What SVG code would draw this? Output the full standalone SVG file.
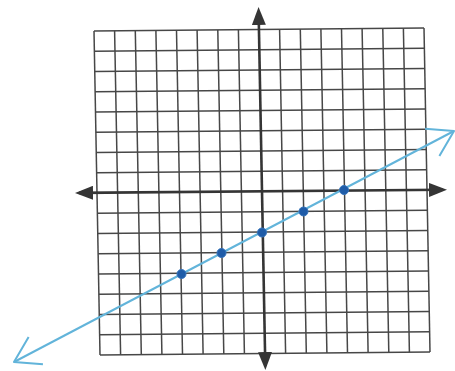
<svg xmlns="http://www.w3.org/2000/svg" width="455" height="371" viewBox="0 0 455 371">
  <style>
    .grid line { stroke: #474747; stroke-width: 1.5; }
    .axis { stroke: #353535; stroke-width: 2.6; fill: none; }
    .graph { stroke: #62b4da; stroke-width: 2; fill: none; }
    .pt { fill: #1f5ca8; stroke: #3573bb; stroke-width: 1; }
  </style>
  <defs>
    <marker id="axisHead" viewBox="0 0 18 14" refX="14" refY="7" markerWidth="18" markerHeight="14" markerUnits="userSpaceOnUse" orient="auto-start-reverse">
      <path d="M0,0 L18,7 L0,14 z" fill="#353535"/>
    </marker>
    <marker id="openHead" viewBox="-2 -2 30 36" refX="24.6" refY="15.4" markerWidth="30" markerHeight="36" markerUnits="userSpaceOnUse" orient="auto-start-reverse" overflow="visible">
      <path d="M0,0 L24.6,15.4 L0,30.8" fill="none" stroke="#62b4da" stroke-width="2" stroke-linejoin="round"/>
    </marker>
  </defs>
  <rect width="455" height="371" fill="#ffffff"/>

  <g id="grid" class="grid">
    <line x1="94" y1="31" x2="100" y2="355"/>
    <line x1="114.6" y1="30.8" x2="120.6" y2="354.8"/>
    <line x1="135.3" y1="30.6" x2="141.3" y2="354.6"/>
    <line x1="155.9" y1="30.4" x2="161.9" y2="354.4"/>
    <line x1="176.5" y1="30.3" x2="182.5" y2="354.3"/>
    <line x1="197.1" y1="30.1" x2="203.1" y2="354.1"/>
    <line x1="217.8" y1="29.9" x2="223.8" y2="353.9"/>
    <line x1="238.4" y1="29.7" x2="244.4" y2="353.7"/>
    <line x1="279.6" y1="29.3" x2="285.6" y2="353.3"/>
    <line x1="300.3" y1="29.1" x2="306.3" y2="353.1"/>
    <line x1="320.9" y1="28.9" x2="326.9" y2="352.9"/>
    <line x1="341.5" y1="28.8" x2="347.5" y2="352.8"/>
    <line x1="362.1" y1="28.6" x2="368.1" y2="352.6"/>
    <line x1="382.8" y1="28.4" x2="388.8" y2="352.4"/>
    <line x1="403.4" y1="28.2" x2="409.4" y2="352.2"/>
    <line x1="424" y1="28" x2="430" y2="352"/>

    <line x1="94" y1="31" x2="424" y2="28"/>
    <line x1="94.4" y1="51.3" x2="424.4" y2="48.3"/>
    <line x1="94.8" y1="71.5" x2="424.8" y2="68.5"/>
    <line x1="95.1" y1="91.8" x2="425.1" y2="88.8"/>
    <line x1="95.5" y1="112" x2="425.5" y2="109"/>
    <line x1="95.9" y1="132.3" x2="425.9" y2="129.3"/>
    <line x1="96.3" y1="152.5" x2="426.3" y2="149.5"/>
    <line x1="96.6" y1="172.8" x2="426.6" y2="169.8"/>
    <line x1="97.4" y1="213.3" x2="427.4" y2="210.3"/>
    <line x1="97.8" y1="233.5" x2="427.8" y2="230.5"/>
    <line x1="98.1" y1="253.8" x2="428.1" y2="250.8"/>
    <line x1="98.5" y1="274" x2="428.5" y2="271"/>
    <line x1="98.9" y1="294.3" x2="428.9" y2="291.3"/>
    <line x1="99.3" y1="314.5" x2="429.3" y2="311.5"/>
    <line x1="99.6" y1="334.8" x2="429.6" y2="331.8"/>
    <line x1="100" y1="355" x2="430" y2="352"/>
  </g>

  <g id="axes">
    <line id="x-axis" class="axis" x1="79" y1="192.9" x2="443" y2="189.8" marker-start="url(#axisHead)" marker-end="url(#axisHead)"/>
    <line id="y-axis" class="axis" x1="258.6" y1="11" x2="265.3" y2="366" marker-start="url(#axisHead)" marker-end="url(#axisHead)"/>
  </g>

  <g id="connectors">
    <line id="graph-line" class="graph" x1="14" y1="362" x2="454" y2="131" marker-start="url(#openHead)" marker-end="url(#openHead)"/>
  </g>

  <g id="point-a"><circle class="pt" cx="181.5" cy="274" r="4.5"/></g>
  <g id="point-b"><circle class="pt" cx="221.5" cy="253" r="4.5"/></g>
  <g id="point-c"><circle class="pt" cx="262" cy="232.5" r="4.5"/></g>
  <g id="point-d"><circle class="pt" cx="303.5" cy="211.5" r="4.5"/></g>
  <g id="point-e"><circle class="pt" cx="344" cy="190" r="4.5"/></g>
</svg>
